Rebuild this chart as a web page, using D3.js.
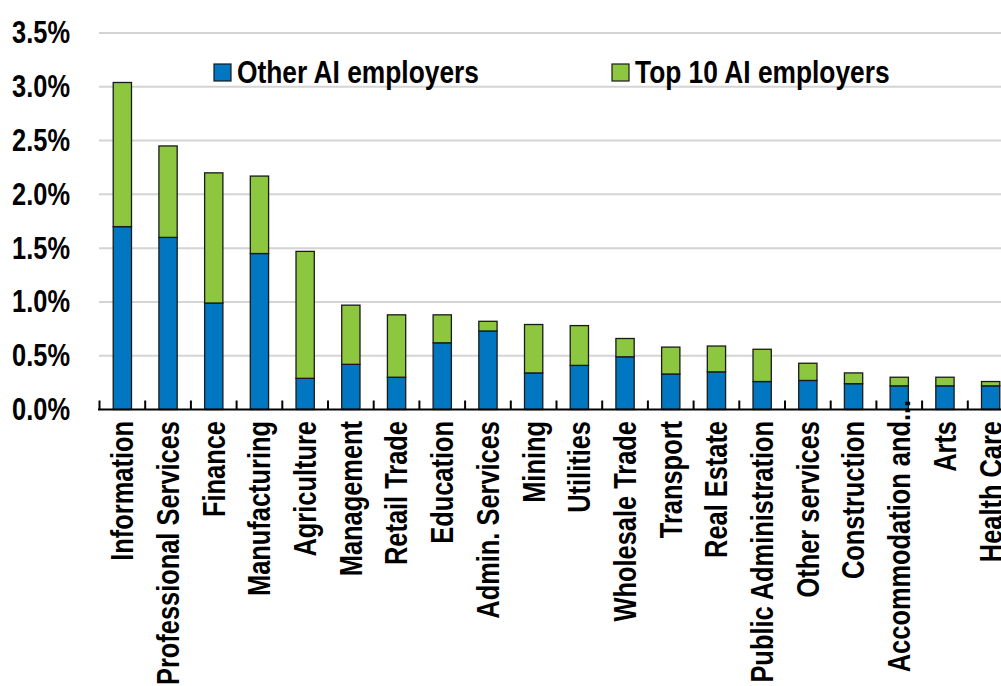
<!DOCTYPE html>
<html>
<head>
<meta charset="utf-8">
<script src="https://cdn.jsdelivr.net/npm/d3@7"></script>
<style>
  html, body { margin: 0; padding: 0; background: #fff; overflow: hidden; }
  svg { display: block; }
  text { font-family: "Liberation Sans", Arial, sans-serif; font-weight: bold; fill: #000; }
</style>
</head>
<body>
<svg id="chart" width="1001" height="686"></svg>
<script>
// Industries, ordered by total share of AI employment (%)
const categories = [
  "Information", "Professional Services", "Finance", "Manufacturing", "Agriculture",
  "Management", "Retail Trade", "Education", "Admin. Services", "Mining",
  "Utilities", "Wholesale Trade", "Transport", "Real Estate", "Public Administration",
  "Other services", "Construction", "Accommodation and...", "Arts", "Health Care"
];

// Share held by employers outside the top 10 (%)
const otherEmployers = [
  1.70, 1.60, 0.99, 1.45, 0.29,
  0.42, 0.30, 0.62, 0.73, 0.34,
  0.41, 0.49, 0.33, 0.35, 0.26,
  0.27, 0.24, 0.22, 0.22, 0.22
];

// Share held by the top 10 AI employers (%), stacked on top
const top10Employers = [
  1.34, 0.85, 1.21, 0.72, 1.18,
  0.55, 0.58, 0.26, 0.09, 0.45,
  0.37, 0.17, 0.25, 0.24, 0.30,
  0.16, 0.10, 0.08, 0.08, 0.04
];

const seriesNames = ["Other AI employers", "Top 10 AI employers"];
const seriesColors = ["#0077c0", "#8dc63f"];
const yTicks = [0, 0.5, 1.0, 1.5, 2.0, 2.5, 3.0, 3.5];

const svg = d3.select("#chart");
const W = 1001;
const FONT = 31;
const NARROW = 0.82;   // condensed lettering, narrowed horizontally

const y = d3.scaleLinear().domain([0, 3.5]).range([409.5, 33]);
const x = d3.scaleBand().domain(categories).range([99.5, 1013.5]).padding(0);
const barW = x.bandwidth() * 0.4;

// Gridlines
svg.append("g")
  .selectAll("line")
  .data(yTicks.filter(t => t > 0))
  .join("line")
  .attr("x1", 99).attr("x2", W)
  .attr("y1", d => y(d)).attr("y2", d => y(d))
  .attr("stroke", "#d4d4d4").attr("stroke-width", 2);

// Y axis labels
const yAxis = d3.axisLeft(y).tickValues(yTicks)
  .tickFormat(d => d3.format(".1f")(d) + "%")
  .tickSize(0).tickPadding(0);
const yg = svg.append("g").attr("transform", "translate(70,0)").call(yAxis);
yg.select(".domain").remove();
yg.attr("font-family", null).attr("font-size", null);
yg.selectAll("text")
  .attr("font-size", FONT)
  .attr("fill", "#000")
  .attr("transform", `scale(${NARROW},1)`);

// Stacked bars
const rows = categories.map((c, i) => ({ cat: c, other: otherEmployers[i], top10: top10Employers[i] }));
const stack = d3.stack().keys(["other", "top10"])(rows);

svg.append("g")
  .selectAll("g")
  .data(stack)
  .join("g")
  .attr("fill", (d, i) => seriesColors[i])
  .selectAll("rect")
  .data(d => d)
  .join("rect")
  .attr("x", d => x(d.data.cat) + (x.bandwidth() - barW) / 2)
  .attr("width", barW)
  .attr("y", d => y(d[1]))
  .attr("height", d => y(d[0]) - y(d[1]))
  .attr("stroke", "#1a1a1a").attr("stroke-width", 1.3);

// X axis line and category separator ticks
const y0 = y(0);
svg.append("line")
  .attr("x1", 98).attr("x2", W)
  .attr("y1", y0).attr("y2", y0)
  .attr("stroke", "#000").attr("stroke-width", 2.2);

const boundaries = categories.map(c => x(c)).concat([x.range()[1]]);
svg.append("g")
  .selectAll("line")
  .data(boundaries)
  .join("line")
  .attr("x1", d => d).attr("x2", d => d)
  .attr("y1", y0 - 9).attr("y2", y0)
  .attr("stroke", "#000").attr("stroke-width", 2);

// Category labels, rotated
const labels = svg.append("g");
categories.forEach(c => {
  const cx = x(c) + x.bandwidth() / 2;
  const trimmed = c.endsWith("...");
  const main = trimmed ? c.slice(0, -3) : c;
  const t = labels.append("g")
    .attr("transform", `translate(${cx},421) rotate(-90) scale(${NARROW},1)`);
  t.append("text")
    .attr("text-anchor", "end")
    .attr("dy", "0.35em")
    .attr("font-size", FONT)
    .text(main);
  if (trimmed) {
    t.append("text")
      .attr("text-anchor", "start")
      .attr("dy", "0.35em")
      .attr("font-size", FONT)
      .text("...");
  }
});

// Legend
const legendX = [214, 612];
const legend = svg.append("g");
seriesNames.forEach((name, i) => {
  legend.append("rect")
    .attr("x", legendX[i]).attr("y", 64)
    .attr("width", 17).attr("height", 17)
    .attr("fill", seriesColors[i])
    .attr("stroke", "#1a1a1a").attr("stroke-width", 1.2);
  legend.append("text")
    .attr("transform", `translate(${legendX[i] + 23},83) scale(0.85,1)`)
    .attr("font-size", FONT)
    .text(name);
});
</script>
</body>
</html>
